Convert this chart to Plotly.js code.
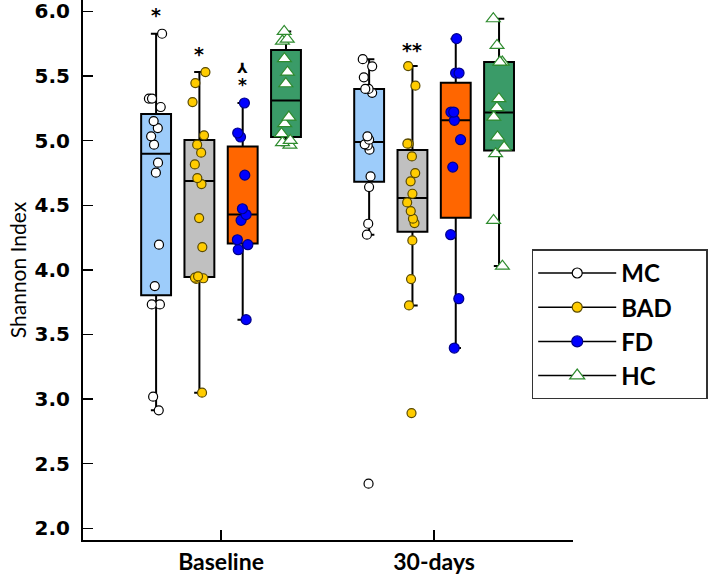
<!DOCTYPE html>
<html>
<head>
<meta charset="utf-8">
<script src="https://cdn.plot.ly/plotly-3.0.1.min.js"></script>
<style>html,body{margin:0;padding:0;background:#fff;}#chart{width:708px;height:578px;}</style>
</head>
<body>
<div id="chart"></div>
<script>
// ---- data (Shannon index) ----
const timepoints = ['Baseline', '30-days'];
const seriesNames = ['MC', 'BAD', 'FD', 'HC'];

const mcBaseline  = [5.827, 5.325, 5.325, 5.260, 5.151, 5.097, 5.033, 4.969, 4.829, 4.752, 4.195, 3.875, 3.733, 3.733, 3.019, 2.913];
const mc30days    = [5.630, 5.575, 5.490, 5.400, 5.400, 5.370, 5.033, 5.007, 4.971, 4.963, 4.930, 4.723, 4.641, 4.357, 4.272, 2.346];

const badBaseline = [5.530, 5.445, 5.298, 5.041, 4.969, 4.907, 4.816, 4.710, 4.664, 4.401, 4.176, 3.950, 3.940, 3.935, 3.930, 3.050];
const bad30days   = [5.577, 5.425, 4.976, 4.976, 4.878, 4.749, 4.685, 4.589, 4.522, 4.455, 4.396, 4.362, 4.228, 3.929, 3.725, 2.892];

const fdBaseline  = [5.291, 5.059, 5.028, 4.733, 4.473, 4.428, 4.383, 4.233, 4.195, 4.156, 3.615];
const fd30days    = [5.789, 5.523, 5.523, 5.221, 5.221, 5.157, 5.007, 4.795, 4.272, 3.777, 3.395];

const hcBaseline  = [5.845, 5.785, 5.770, 5.634, 5.530, 5.440, 5.182, 5.131, 5.054, 5.002, 4.985, 4.965];
const hc30days    = [5.943, 5.737, 5.608, 5.608, 5.325, 5.255, 5.182, 5.028, 4.950, 4.899, 4.383, 4.029];

// significance marks: text, series index, timepoint index, y value
const markText   = ['*', '*', '\u2144<br>*', '**'];
const markSeries = [0, 1, 2, 1];
const markTime   = [0, 0, 0, 1];
const markY      = [5.982, 5.685, 5.490, 5.716];

// ---- styles ----
const styles = [
  {fill: '#9DCCFA', mcolor: '#FFFFFF', mline: '#000000', symbol: 'circle', size: 9},
  {fill: '#C0C0C0', mcolor: '#FFCC00', mline: '#5a4a00', symbol: 'circle', size: 9},
  {fill: '#FF6600', mcolor: '#0000FF', mline: '#00008B', symbol: 'circle', size: 10},
  {fill: '#3A9B68', mcolor: '#FFFFFF', mline: '#2E8B2E', symbol: 'triangle-up', size: 12}
];
const seriesData = [
  [mcBaseline, mc30days],
  [badBaseline, bad30days],
  [fdBaseline, fd30days],
  [hcBaseline, hc30days]
];

const BOXGAP = 0.187, BOXGROUPGAP = 0.31;
const NB = '\u00A0';

const traces = [];
seriesNames.forEach((name, i) => {
  const xs = [], ys = [];
  seriesData[i].forEach((vals, t) => {
    vals.forEach(v => { xs.push(timepoints[t]); ys.push(v); });
  });
  const s = styles[i];
  traces.push({
    type: 'box', name: name, x: xs, y: ys,
    boxpoints: 'all', jitter: 0.5, pointpos: 0,
    fillcolor: s.fill,
    line: {color: '#000000', width: 2},
    whiskerwidth: 0.35,
    marker: {color: s.mcolor, symbol: s.symbol, size: s.size, opacity: 1,
             line: {color: s.mline, width: 1.2}},
    showlegend: false, hoverinfo: 'y'
  });
});
// legend entries (BAD padded so the box matches the reference width)
seriesNames.forEach((name, i) => {
  const s = styles[i];
  traces.push({
    type: 'scatter', mode: 'lines+markers',
    name: name + (i === 1 ? NB.repeat(5) : ''),
    x: [null], y: [null],
    line: {color: '#000000', width: 1.5},
    marker: {color: s.mcolor, symbol: s.symbol, size: s.size + 1,
             line: {color: s.mline, width: 1.2}},
    showlegend: true
  });
});

const gf = 1 - BOXGAP;
const annotations = markText.map((t, j) => {
  const multi = t.indexOf('<br>') >= 0;
  return {
    x: markTime[j] + gf * (-0.5 + (markSeries[j] + 0.5) / seriesNames.length),
    y: markY[j], xref: 'x', yref: 'y',
    text: multi ? t.replace('*', "<span style='font-size:17px'>*</span>") : t,
    showarrow: false,
    font: {family: 'DejaVu Sans', size: multi ? 14 : 19, weight: 700, color: '#000000'},
    xanchor: 'center', yanchor: 'middle', yshift: multi ? 0 : -1.5
  };
});

const layout = {
  width: 708, height: 578,
  margin: {l: 83, r: 135, t: 0, b: 38, autoexpand: false},
  paper_bgcolor: '#fff', plot_bgcolor: '#fff',
  boxmode: 'group', boxgap: BOXGAP, boxgroupgap: BOXGROUPGAP,
  xaxis: {
    type: 'category', range: [-0.648, 1.652],
    showline: true, linecolor: '#000', linewidth: 2,
    ticks: 'inside', ticklen: 10, tickwidth: 1.5, tickcolor: '#000',
    showgrid: false, zeroline: false,
    tickfont: {family: 'Lato', size: 23, weight: 700, color: '#000'},
    ticklabelstandoff: 0, ticklabeloverflow: 'allow', automargin: false
  },
  yaxis: {
    range: [1.91, 6.088],
    tick0: 2, dtick: 0.5, tickformat: '.1f',
    showline: true, linecolor: '#000', linewidth: 2,
    ticks: 'inside', ticklen: 10, tickwidth: 1.5, tickcolor: '#000',
    showgrid: false, zeroline: false,
    tickfont: {family: 'DejaVu Sans', size: 20, weight: 700, color: '#000'},
    ticklabelstandoff: 7, ticklabeloverflow: 'allow', automargin: false,
    title: {text: 'Shannon Index', font: {family: 'Lato', size: 21, color: '#000'}, standoff: 2}
  },
  legend: {
    xref: 'container', yref: 'container',
    x: 0.751, y: 0.5685, xanchor: 'left', yanchor: 'top',
    bgcolor: '#fff', bordercolor: '#333', borderwidth: 1.5,
    font: {family: 'Lato', size: 24, weight: 700, color: '#000'},
    itemwidth: 78, tracegroupgap: 0
  },
  annotations: annotations,
  showlegend: true
};

Plotly.newPlot('chart', traces, layout, {staticPlot: true, displayModeBar: false});
</script>
</body>
</html>
